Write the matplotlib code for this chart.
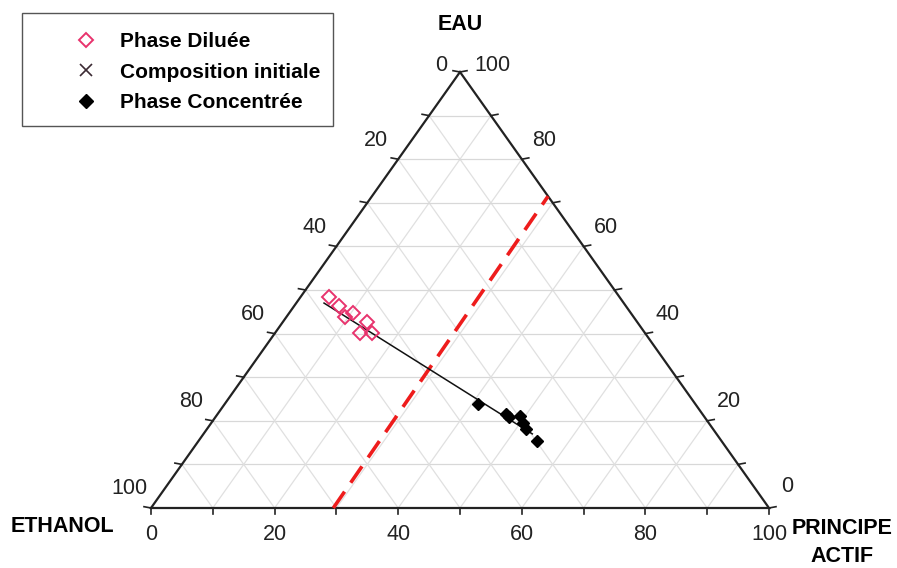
import matplotlib
matplotlib.use("Agg")
import matplotlib.pyplot as plt
from matplotlib.lines import Line2D
from matplotlib.patches import Rectangle

plt.rcParams['font.family'] = ['Liberation Sans', 'DejaVu Sans']

# compositions en % (principe actif, eau) ; ethanol = 100 - les deux
dil_pa = [4.5, 7.3, 9.5, 10.4, 13.6, 13.7, 15.7]
dil_eau = [48.5, 46.3, 43.9, 44.7, 42.7, 40.2, 40.1]
conc_pa = [41.0, 46.6, 47.5, 49.1, 50.5, 51.6, 54.8]
conc_eau = [23.9, 21.6, 20.9, 21.1, 19.5, 18.1, 15.4]
tie_pa = [4.5, 53.2]
tie_eau = [47.0, 17.0]
red_pa = [29.5, 28.5]
red_eau = [0.0, 71.5]
ticks = [0, 20, 40, 60, 80, 100]


def tern(pa, eau):
    # coordonnees cartesiennes dans le triangle
    x = [p + e / 2.0 for p, e in zip(pa, eau)]
    return x, list(eau)


W, H = 897, 568
fig = plt.figure(figsize=(W / 100, H / 100), dpi=100, facecolor='white')
ax = fig.add_axes([151 / W, 60 / H, 618 / W, 436 / H])
ax.set_xlim(0, 100)
ax.set_ylim(0, 100)
ax.axis('off')

# grille
gcol = '#e0e0e0'
for i in range(10, 100, 10):
    ax.plot([i / 2, 100 - i / 2], [i, i], color='#d8d8d8', lw=0.9, zorder=1)
    ax.plot([i, i + (100 - i) / 2], [0, 100 - i], color=gcol, lw=0.9, zorder=1)
    ax.plot([100 - i, (100 - i) / 2], [0, 100 - i], color=gcol, lw=0.9, zorder=1)

# bords
ax.plot([0, 100, 50, 0], [0, 0, 100, 0], color='#222222', lw=1.6, zorder=3,
        clip_on=False, solid_joinstyle='miter')

# graduations
dx = 7 / 6.18
dy = 6 / 4.36
for i in range(0, 101, 10):
    ax.plot([i, i], [0, -dy], color='#222222', lw=1.2, clip_on=False)
    ax.plot([i / 2, i / 2 - dx], [i, i + 0.3], color='#222222', lw=1.2, clip_on=False)
    ax.plot([100 - i / 2, 100 - i / 2 + dx], [i, i + 0.3], color='#222222', lw=1.2,
            clip_on=False)

fs = 15.5
for v in ticks:
    # bas : principe actif
    ax.annotate(str(v), (v, 0), xytext=(0, -27), textcoords='offset pixels',
                ha='center', va='center', fontsize=fs, color='#222222')
    # gauche : ethanol
    e = 100 - v
    off = (-19, 7) if v == 0 else (-22, 19)
    ax.annotate(str(v), (e / 2, e), xytext=off, textcoords='offset pixels',
                ha='center', va='center', fontsize=fs, color='#222222')
    # droite : eau
    if v == 100:
        off = (32, 7)
    elif v == 0:
        off = (18, 21)
    else:
        off = (22, 19)
    ax.annotate(str(v), (100 - v / 2, v), xytext=off, textcoords='offset pixels',
                ha='center', va='center', fontsize=fs, color='#222222')

# sommets
vfs = 15.5
fig.text(460 / W, 1 - 25 / H, 'EAU', ha='center', va='center', fontsize=vfs,
         fontweight='bold')
fig.text(62 / W, 1 - 527 / H, 'ETHANOL', ha='center', va='center', fontsize=vfs,
         fontweight='bold')
fig.text(842 / W, 1 - 529 / H, 'PRINCIPE', ha='center', va='center', fontsize=vfs,
         fontweight='bold')
fig.text(842 / W, 1 - 556 / H, 'ACTIF', ha='center', va='center', fontsize=vfs,
         fontweight='bold')

# donnees
x, y = tern(red_pa, red_eau)
ax.plot(x, y, color='#ee1c1c', lw=2.6, dashes=(5.5, 3), zorder=4, clip_on=False)
x, y = tern(tie_pa, tie_eau)
ax.plot(x, y, color='#111111', lw=1.1, zorder=5)
pink = '#e8336d'
x, y = tern(dil_pa, dil_eau)
ax.plot(x, y, 'D', mfc='none', mec=pink, mew=1.4, ms=7, ls='none', zorder=6)
x, y = tern(conc_pa, conc_eau)
ax.plot(x, y, 'D', color='black', ms=6.5, ls='none', zorder=6)

# legende
handles = [
    Line2D([], [], marker='D', mfc='none', mec=pink, mew=1.4, ms=7.5, ls='none'),
    Line2D([], [], marker='x', color='#3b2a33', mew=1.2, ms=9, ls='none'),
    Line2D([], [], marker='D', color='black', ms=7.5, ls='none'),
]
labels = ['Phase Diluée', 'Composition initiale', 'Phase Concentrée']
fig.legend(handles, labels, loc='upper left', bbox_to_anchor=(77 / W, 1 - 32 / H),
           frameon=False, borderpad=0, borderaxespad=0, handlelength=0.85,
           handletextpad=1.2, labelspacing=0.56,
           prop={'size': 15, 'weight': 'bold'})
fig.patches.append(Rectangle((22 / W, 1 - 126 / H), 311 / W, 113 / H,
                             transform=fig.transFigure, fill=False,
                             edgecolor='#555555', lw=1.0))

fig.savefig('out.png', dpi=100)
